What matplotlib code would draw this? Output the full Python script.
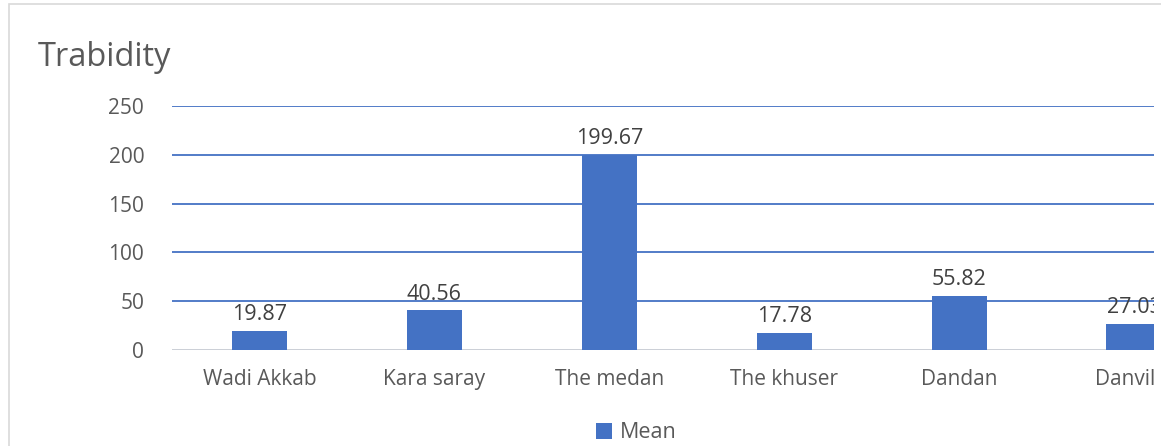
import matplotlib.pyplot as plt
from matplotlib.patches import Rectangle

# data (last category is cut off at the right edge)
sites = ['Wadi Akkab', 'Kara saray', 'The medan', 'The khuser', 'Dandan', 'Danville']
means = [19.87, 40.56, 199.67, 17.78, 55.82, 27.03]
yticks = [0, 50, 100, 150, 200, 250]

blue = '#4472C4'
grey = '#595959'
plt.rcParams['font.family'] = ['Open Sans', 'DejaVu Sans']

W, H = 1161, 446
fig = plt.figure(figsize=(W / 100, H / 100), dpi=100)

# chart area border (runs past right/bottom edges)
fig.patches.append(Rectangle((9 / W, -0.1), 1.2, 1 - 4 / H + 0.1, transform=fig.transFigure,
                             fill=False, edgecolor='#D9D9D9', linewidth=1.2))

# axes extends past the right side of the picture, like the cropped original
ax = fig.add_axes([172 / W, (H - 350) / H, (1221.5 - 172) / W, 244 / H])
x = range(len(sites))
bars = ax.bar(x, means, width=0.315, color=blue, zorder=3)

for xi, v in zip(x, means):
    ax.text(xi, v + 6, f'{v:.2f}', ha='center', va='bottom', fontsize=15.5, color='#404040', zorder=4)

ax.set_xlim(-0.5, 5.5)
ax.set_ylim(0, 250)
ax.set_yticks(yticks)
ax.set_xticks(list(x))
ax.set_xticklabels(sites)
ax.tick_params(axis='both', length=0, labelsize=15, labelcolor=grey)
ax.tick_params(axis='x', pad=14)
ax.tick_params(axis='y', pad=20)
ax.grid(axis='y', color=blue, linewidth=1.3, zorder=0)
ax.axhline(0, color='#D9D9D9', linewidth=1.3, zorder=2)
for s in ax.spines.values():
    s.set_visible(False)

fig.text(38 / W, 1 - 58 / H, 'Trabidity', fontsize=23.5, color=grey, ha='left', va='center')

leg = fig.legend([bars], ['Mean'], loc='center', bbox_to_anchor=(636 / W, 1 - 433 / H),
                 frameon=False, fontsize=15.5, handlelength=0.75, handleheight=0.75,
                 handletextpad=0.35)
for t in leg.get_texts():
    t.set_color(grey)

# the original picture is cropped a few pixels before its right edge
fig.patches.append(Rectangle((1154 / W, 0), 1, 1 - 12 / H, transform=fig.transFigure,
                             facecolor='white', edgecolor='none', zorder=10))

fig.savefig('out.png', dpi=100)
